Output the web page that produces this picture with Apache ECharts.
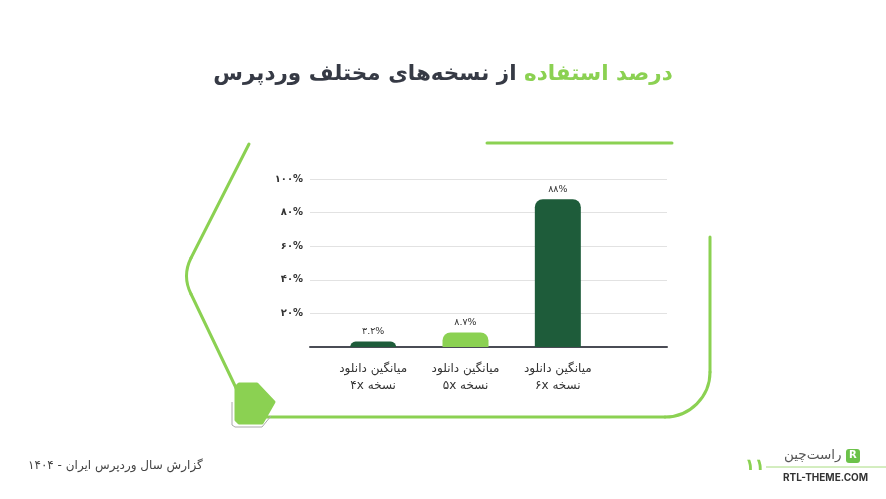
<!DOCTYPE html>
<html lang="fa">
<head>
<meta charset="utf-8">
<script src="https://cdn.jsdelivr.net/npm/echarts@6/dist/echarts.min.js"></script>
<style>
html,body{margin:0;padding:0;background:#fff;}
#c{width:886px;height:499px;direction:rtl;}
</style>
</head>
<body>
<div id="c"></div>
<script>
// ---- data ----
const categories = ['میانگین دانلود\nنسخه ۴x', 'میانگین دانلود\nنسخه ۵x', 'میانگین دانلود\nنسخه ۶x'];
const values = [3.2, 8.7, 88];
const barColors = ['#1e5c3a', '#8bd152', '#1e5c3a'];
const yTicks = [0, 20, 40, 60, 80, 100];
const titleDark = 'از نسخه\u200cهای مختلف وردپرس';
const titleGreen = 'درصد استفاده';
const footerText = 'گزارش سال وردپرس ایران - ۱۴۰۴';
const pageNum = '۱۱';

function toFa(v) {
  return String(v).replace(/[0-9]/g, d => '۰۱۲۳۴۵۶۷۸۹'[+d]);
}

const GREEN = '#8bd152';
const FONT = "'DejaVu Sans', sans-serif";
const lineStyle = {stroke: GREEN, lineWidth: 3, fill: null, lineCap: 'round'};

const chart = echarts.init(document.getElementById('c'), null, {renderer: 'canvas'});
chart.setOption({
  backgroundColor: '#ffffff',
  textStyle: {fontFamily: FONT},
  title: {
    left: 'center',
    top: 58,
    text: '{d|' + titleDark + '}{s| }{g|' + titleGreen + '}',
    textStyle: {
      rich: {
        d: {fontSize: 21.5, fontWeight: 'bold', color: '#363a45', fontFamily: FONT},
        s: {fontSize: 21.5, fontFamily: FONT},
        g: {fontSize: 21.5, fontWeight: 'bold', color: GREEN, fontFamily: FONT}
      }
    }
  },
  grid: [
    {left: 310, right: 219, top: 179, bottom: 152},
    {left: 327, right: 282, top: 179, bottom: 152}
  ],
  xAxis: [
    {gridIndex: 0, type: 'category', data: [''],
     axisLine: {show: true, lineStyle: {color: '#4a4c55', width: 2}},
     axisTick: {show: false}, axisLabel: {show: false}, z: 1},
    {gridIndex: 1, type: 'category', data: categories,
     axisLine: {show: false}, axisTick: {show: false},
     axisLabel: {margin: 13, fontSize: 12, lineHeight: 17, color: '#333', fontFamily: FONT}}
  ],
  yAxis: [
    {gridIndex: 0, type: 'value', min: yTicks[0], max: yTicks[yTicks.length - 1], interval: 20,
     axisLine: {show: false}, axisTick: {show: false},
     splitLine: {lineStyle: {color: '#e2e2e2', width: 1}},
     axisLabel: {
       margin: 7, fontSize: 10, fontWeight: 'bold', color: '#333', padding: [0, 0, 6, 0],
       formatter: v => v === 0 ? '' : toFa(v) + '%'
     }},
    {gridIndex: 1, type: 'value', min: 0, max: 100, show: false}
  ],
  series: [{
    type: 'bar',
    xAxisIndex: 1, yAxisIndex: 1,
    barWidth: 46,
    z: 3,
    data: values.map((v, i) => ({value: v, itemStyle: {color: barColors[i], borderRadius: [8, 8, 0, 0]}})),
    label: {
      show: true, position: 'top', distance: 5, fontSize: 9.5, color: '#333',
      formatter: p => toFa(p.value) + '%'
    }
  }],
  graphic: [
    // top decorative line
    {type: 'line', shape: {x1: 487, y1: 143, x2: 672, y2: 143}, style: lineStyle, silent: true},
    // left zigzag
    {type: 'line', shape: {x1: 249, y1: 144, x2: 191, y2: 258}, style: lineStyle, silent: true},
    {type: 'bezierCurve', shape: {x1: 191, y1: 258, cpx1: 182, cpy1: 276, x2: 191, y2: 294}, style: lineStyle, silent: true},
    {type: 'line', shape: {x1: 191, y1: 294, x2: 237, y2: 390}, style: lineStyle, silent: true},
    // bottom + right line
    {type: 'line', shape: {x1: 266, y1: 417, x2: 665, y2: 417}, style: lineStyle, silent: true},
    {type: 'arc', shape: {cx: 665, cy: 372, r: 45, startAngle: 0, endAngle: Math.PI / 2, clockwise: true}, style: lineStyle, silent: true},
    {type: 'line', shape: {x1: 710, y1: 372, x2: 710, y2: 237}, style: lineStyle, silent: true},
    // badge outline
    {type: 'polyline', shape: {points: [[232, 402], [232, 425], [235, 427], [262, 427], [271, 416]]},
     style: {stroke: '#aaaaaa', lineWidth: 1, fill: null}, silent: true},
    // badge
    {type: 'polygon', shape: {points: [[239, 384], [257, 384], [274, 402], [262, 423], [239, 423], [236, 420], [236, 387]]},
     style: {fill: GREEN, stroke: GREEN, lineWidth: 3, lineJoin: 'round'}, silent: true},
    // footer left text
    {type: 'text', left: 28, top: 460,
     style: {text: footerText, fontSize: 12, fill: '#444', fontFamily: FONT}},
    // page number
    {type: 'text', left: 745, top: 458,
     style: {text: pageNum, fontSize: 16, fontWeight: 'bold', fill: GREEN, fontFamily: FONT}},
    {type: 'line', shape: {x1: 766, y1: 467, x2: 886, y2: 467},
     style: {stroke: '#a8dc80', lineWidth: 1}, silent: true},
    // logo
    {type: 'text', left: 784, top: 448,
     style: {text: 'راست\u200cچین', fontSize: 13.5, fill: '#555', fontFamily: FONT}},
    {type: 'rect', shape: {x: 846, y: 449, width: 14, height: 14, r: 3},
     style: {fill: '#6cc24a'}},
    {type: 'text', left: 849, top: 450,
     style: {text: 'R', fontSize: 10, fontWeight: 'bold', fill: '#fff', fontFamily: FONT}},
    {type: 'text', left: 783, top: 473,
     style: {text: 'RTL-THEME.COM', fontSize: 10, fontWeight: 'bold', fill: '#333', fontFamily: "'Inter', 'DejaVu Sans', sans-serif"}}
  ]
});
</script>
</body>
</html>
